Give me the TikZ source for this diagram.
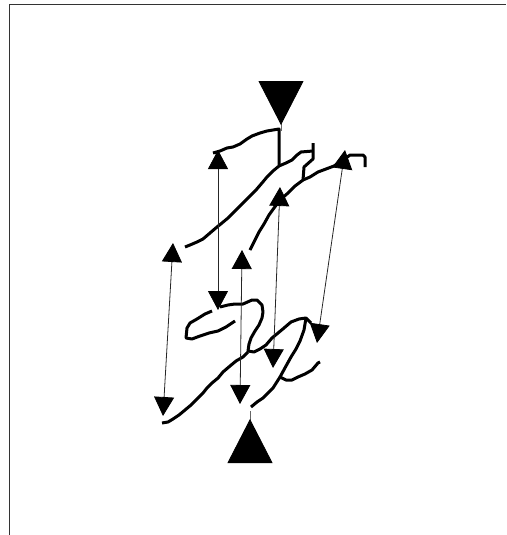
\documentclass[tikz,border=0pt]{standalone}
\usetikzlibrary{arrows.meta}
\begin{document}
\begin{tikzpicture}[x=1pt, y=-1pt,
    knot/.style={line width=3pt, black, line join=round},
    chord/.style={{Triangle[width=20pt, length=19pt, color=black]}-{Triangle[width=20pt, length=19pt, color=black]}, line width=0.8pt, black!85},
    endarrow/.style={-{Triangle[reversed, width=45pt, length=44pt, color=black]}, line width=0.8pt, black!60},
    frame/.style={line width=1pt, black!80}
  ]
  \useasboundingbox (0,0) rectangle (506,535);
  \draw[frame] (9,535) -- (9,5) -- (506,5);

  \coordinate (topend) at (281,81);
  \coordinate (topin) at (281,131);
  \coordinate (botend) at (250,463);
  \coordinate (botin) at (250,411);
  \coordinate (a1) at (218,150); \coordinate (a2) at (218,310);
  \coordinate (b1) at (173,243); \coordinate (b2) at (163,416);
  \coordinate (c1) at (242,250); \coordinate (c2) at (240,404);
  \coordinate (d1) at (280,187); \coordinate (d2) at (273,368);
  \coordinate (e1) at (345,150); \coordinate (e2) at (317,343);

  \draw[knot] (213,153) -- (220,151) -- (227,148) -- (233,147) -- (240,144) -- (247,139) -- (252,136) -- (260,133) -- (267,131) -- (279,129)
    -- (279,166) -- (273,171) -- (267,177) -- (262,183) -- (256,190) -- (250,196) -- (244,202) -- (238,208) -- (233,213)
    -- (228,218) -- (222,223) -- (217,227) -- (210,233) -- (203,239) -- (197,242) -- (190,245) -- (185,247);
  \draw[knot] (279,166) -- (286,163) -- (292,160) -- (297,155) -- (301,152) -- (313,151);
  \draw[knot] (313,143) -- (313,159) -- (304,167) -- (303,180) -- (295,186) -- (288,193) -- (280,200) -- (274,208)
    -- (269,215) -- (264,224) -- (259,232) -- (255,240) -- (250,250);
  \draw[knot] (303,180) -- (310,177) -- (318,172) -- (326,169) -- (334,166) -- (342,161) -- (350,155) -- (363,155) -- (365,157) -- (365,167);
  \draw[knot] (220,307) -- (228,305) -- (235,304) -- (243,304) -- (252,300) -- (257,300) -- (262,305) -- (263,312) -- (262,318)
    -- (259,325) -- (255,331) -- (251,338) -- (249,344) -- (248,351) -- (254,352) -- (260,349) -- (266,345) -- (272,338)
    -- (278,333) -- (284,328) -- (291,322) -- (299,319) -- (306,318) -- (311,323);
  \draw[knot] (212,311) -- (205,314) -- (197,319) -- (190,323) -- (187,328) -- (186,338) -- (192,339) -- (200,336) -- (209,333)
    -- (218,331) -- (226,327) -- (235,321);
  \draw[knot] (248,352) -- (243,357) -- (236,361) -- (230,366) -- (223,372) -- (218,378) -- (212,383) -- (207,388) -- (203,393)
    -- (197,399) -- (191,405) -- (185,410) -- (179,415) -- (173,419) -- (168,422) -- (162,423);
  \draw[knot] (306,318) -- (304,330) -- (300,341) -- (296,349) -- (291,357) -- (286,366) -- (280,377) -- (273,388) -- (263,398)
    -- (257,402) -- (251,407);
  \draw[knot] (280,377) -- (286,380) -- (292,380) -- (298,377) -- (305,374) -- (312,370) -- (318,363) -- (320,362);

  \draw[chord] (a1) -- (a2);
  \draw[chord] (b1) -- (b2);
  \draw[chord] (c1) -- (c2);
  \draw[chord] (d1) -- (d2);
  \draw[chord] (e1) -- (e2);

  \draw[endarrow] (topin) -- (topend);
  \draw[endarrow] (botin) -- (botend);
\end{tikzpicture}
\end{document}
